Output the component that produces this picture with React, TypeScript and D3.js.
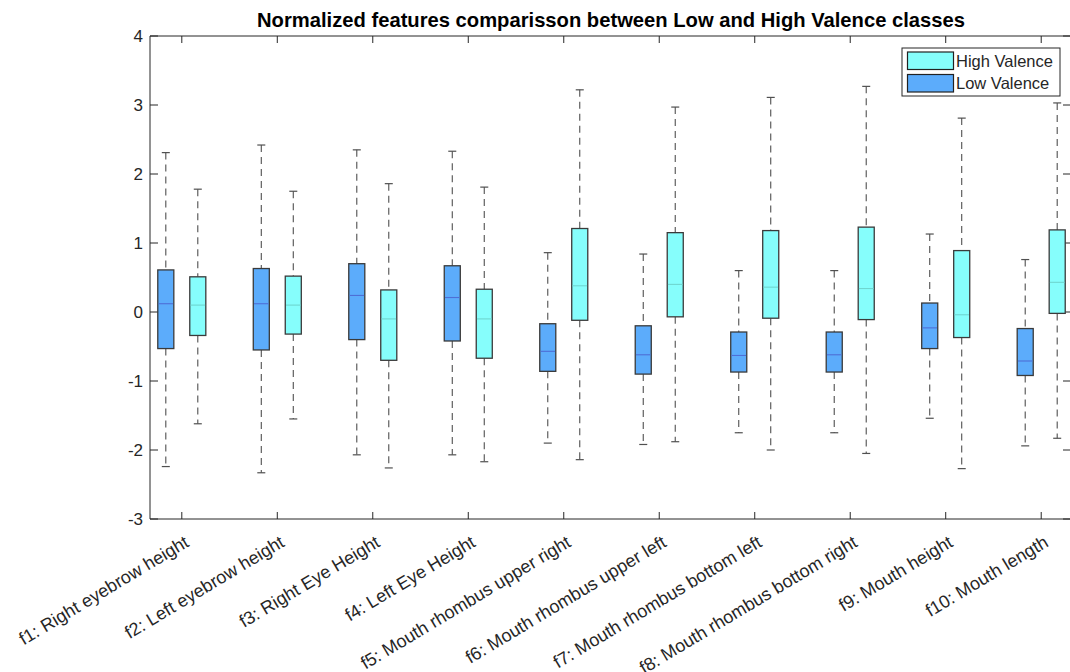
import React from "react";
import * as d3 from "d3";

// Feature names shown along the x axis
const features = [
  "f1: Right eyebrow height",
  "f2: Left eyebrow height",
  "f3: Right Eye Height",
  "f4: Left Eye Height",
  "f5: Mouth rhombus upper right",
  "f6: Mouth rhombus upper left",
  "f7: Mouth rhombus bottom left",
  "f8: Mouth rhombus bottom right",
  "f9: Mouth height",
  "f10: Mouth length",
];

// Low Valence box statistics per feature
const lowUpperWhisker = [2.31, 2.42, 2.35, 2.33, 0.86, 0.84, 0.6, 0.6, 1.13, 0.76];
const lowQ3 = [0.61, 0.63, 0.7, 0.67, -0.17, -0.2, -0.29, -0.29, 0.13, -0.24];
const lowMedian = [0.12, 0.12, 0.24, 0.21, -0.57, -0.62, -0.63, -0.62, -0.23, -0.71];
const lowQ1 = [-0.53, -0.55, -0.4, -0.42, -0.86, -0.9, -0.87, -0.87, -0.53, -0.92];
const lowLowerWhisker = [-2.24, -2.33, -2.07, -2.07, -1.9, -1.92, -1.75, -1.75, -1.54, -1.94];

// High Valence box statistics per feature
const highUpperWhisker = [1.78, 1.75, 1.86, 1.81, 3.22, 2.97, 3.11, 3.27, 2.81, 3.03];
const highQ3 = [0.51, 0.52, 0.32, 0.33, 1.21, 1.15, 1.18, 1.23, 0.89, 1.19];
const highMedian = [0.1, 0.1, -0.1, -0.1, 0.38, 0.4, 0.36, 0.34, -0.04, 0.43];
const highQ1 = [-0.34, -0.32, -0.7, -0.67, -0.12, -0.07, -0.09, -0.11, -0.37, -0.02];
const highLowerWhisker = [-1.62, -1.55, -2.26, -2.17, -2.14, -1.88, -2.0, -2.05, -2.27, -1.83];

const yTicks = [-3, -2, -1, 0, 1, 2, 3, 4];

const W = 1070;
const H = 672;
const left = 150;
const right = 1071;
const top = 36;
const bottom = 519;

const FONT = "'Liberation Sans', Arial, Helvetica, sans-serif";
const AXIS = "#262626";

const x = d3.scaleLinear().domain([0.667, 10.312]).range([left, right]);
const y = d3.scaleLinear().domain([-3, 4]).range([bottom, top]);

const groupShift = 0.1675; // offset of each class box from the category tick
const boxHalf = 0.084; // half box width in category units
const capHalf = 0.042;

type Series = {
  name: string;
  shift: number;
  fill: string;
  medianColor: string;
  up: number[];
  q3: number[];
  med: number[];
  q1: number[];
  lo: number[];
};

const series: Series[] = [
  {
    name: "Low Valence",
    shift: -groupShift,
    fill: "#5cacfb",
    medianColor: "#4e6fd6",
    up: lowUpperWhisker,
    q3: lowQ3,
    med: lowMedian,
    q1: lowQ1,
    lo: lowLowerWhisker,
  },
  {
    name: "High Valence",
    shift: groupShift,
    fill: "#86fefc",
    medianColor: "#6fd6d0",
    up: highUpperWhisker,
    q3: highQ3,
    med: highMedian,
    q1: highQ1,
    lo: highLowerWhisker,
  },
];

function Box({ s, i }: { s: Series; i: number }) {
  const c = i + 1 + s.shift;
  const cx = x(c);
  const x0 = x(c - boxHalf);
  const x1 = x(c + boxHalf);
  const cx0 = x(c - capHalf);
  const cx1 = x(c + capHalf);
  const edge = "#3a3a3a";
  const whisk = "#505050";
  return (
    <g>
      <line x1={cx} x2={cx} y1={y(s.up[i])} y2={y(s.q3[i])} stroke={whisk} strokeWidth={1.1} strokeDasharray="7,5" />
      <line x1={cx} x2={cx} y1={y(s.q1[i])} y2={y(s.lo[i])} stroke={whisk} strokeWidth={1.1} strokeDasharray="7,5" />
      <line x1={cx0} x2={cx1} y1={y(s.up[i])} y2={y(s.up[i])} stroke={whisk} strokeWidth={1.2} />
      <line x1={cx0} x2={cx1} y1={y(s.lo[i])} y2={y(s.lo[i])} stroke={whisk} strokeWidth={1.2} />
      <rect
        x={x0}
        y={y(s.q3[i])}
        width={x1 - x0}
        height={y(s.q1[i]) - y(s.q3[i])}
        fill={s.fill}
        stroke={edge}
        strokeWidth={1.3}
      />
      <line x1={x0 + 0.7} x2={x1 - 0.7} y1={y(s.med[i])} y2={y(s.med[i])} stroke={s.medianColor} strokeWidth={1.1} />
    </g>
  );
}

export default function App() {
  const cats = d3.range(1, features.length + 1);
  const legend = [series[1], series[0]];
  return (
    <svg
      width={W}
      height={H}
      style={{ position: "absolute", left: 0, top: 0, background: "#fff" }}
      fontFamily={FONT}
    >
      <rect width={W} height={H} fill="#fff" />
      <text x={611} y={27} textAnchor="middle" fontSize={20.2} fontWeight="bold" fill="#000">
        Normalized features comparisson between Low and High Valence classes
      </text>

      {/* frame */}
      <line x1={left} x2={right} y1={top} y2={top} stroke={AXIS} strokeWidth={1} />
      <line x1={left} x2={right} y1={bottom} y2={bottom} stroke={AXIS} strokeWidth={1} />
      <line x1={left} x2={left} y1={top} y2={bottom} stroke={AXIS} strokeWidth={1} />
      <line x1={right} x2={right} y1={top} y2={bottom} stroke={AXIS} strokeWidth={1} />

      {/* y ticks */}
      {yTicks.map((t) => (
        <g key={t}>
          <line x1={left} x2={left + 8} y1={y(t)} y2={y(t)} stroke={AXIS} />
          <line x1={right} x2={right - 8} y1={y(t)} y2={y(t)} stroke={AXIS} />
          <text x={left - 7} y={y(t)} dy="0.36em" textAnchor="end" fontSize={17} fill={AXIS}>
            {t}
          </text>
        </g>
      ))}

      {/* x ticks and rotated labels */}
      {cats.map((k, i) => (
        <g key={k}>
          <line x1={x(k)} x2={x(k)} y1={bottom} y2={bottom - 7} stroke={AXIS} />
          <line x1={x(k)} x2={x(k)} y1={top} y2={top + 7} stroke={AXIS} />
          <text
            transform={`translate(${x(k) + 5},${bottom + 21}) rotate(-31)`}
            textAnchor="end"
            dy="0.36em"
            fontSize={18}
            fill={AXIS}
          >
            {features[i]}
          </text>
        </g>
      ))}

      {/* boxes */}
      {series.map((s) =>
        features.map((_, i) => <Box key={s.name + i} s={s} i={i} />)
      )}

      {/* legend */}
      <g>
        <rect x={902} y={48} width={158} height={48} fill="#fff" stroke={AXIS} strokeWidth={1} />
        {legend.map((s, j) => (
          <g key={s.name}>
            <rect x={907.5} y={52 + j * 22.5} width={46} height={17.5} fill={s.fill} stroke="#222" strokeWidth={1.2} />
            <text x={956} y={61 + j * 22.5} dy="0.36em" fontSize={16.5} fill={AXIS}>
              {s.name}
            </text>
          </g>
        ))}
      </g>
    </svg>
  );
}
